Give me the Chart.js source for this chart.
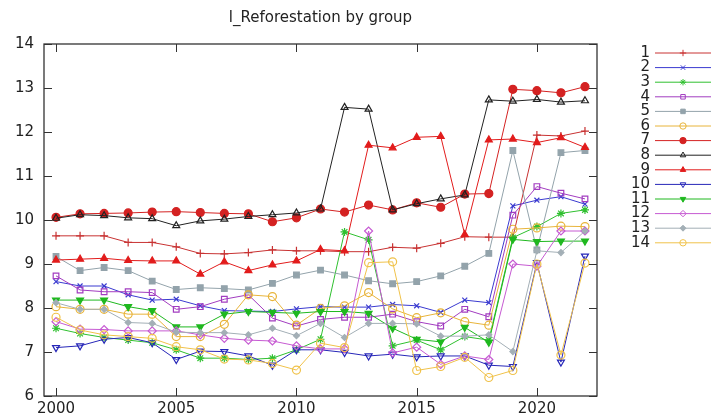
<!DOCTYPE html>
<html>
<head>
<meta charset="utf-8">
<script src="https://cdn.jsdelivr.net/npm/chart.js@4/dist/chart.umd.min.js"></script>
<style>
html,body{margin:0;padding:0;background:#fff;}
#c{display:block;}
</style>
</head>
<body>
<canvas id="c" width="711" height="418"></canvas>
<script>
const chartTitle = "l_Reforestation by group";
const years = [2000,2001,2002,2003,2004,2005,2006,2007,2008,2009,2010,2011,2012,2013,2014,2015,2016,2017,2018,2019,2020,2021,2022];
const xTickValues = [2000,2005,2010,2015,2020];
const yTickValues = [6,7,8,9,10,11,12,13,14];
const groupNames = ["1","2","3","4","5","6","7","8","9","10","11","12","13","14"];

const s1  = [9.64,9.64,9.64,9.49,9.49,9.39,9.24,9.23,9.26,9.32,9.30,9.30,9.28,9.28,9.38,9.36,9.47,9.62,9.61,9.61,11.93,11.91,12.02];
const s2  = [8.60,8.50,8.50,8.30,8.18,8.20,8.05,7.94,7.93,7.92,7.98,8.03,8.02,8.02,8.08,8.05,7.90,8.18,8.12,10.32,10.45,10.53,10.36];
const s3  = [7.54,7.42,7.33,7.27,7.21,7.05,6.86,6.86,6.83,6.86,7.05,7.29,9.73,9.55,7.14,7.27,7.05,7.35,7.27,9.60,9.85,10.15,10.23];
const s4  = [8.73,8.41,8.37,8.37,8.35,7.97,8.03,8.20,8.30,7.77,7.59,7.74,7.79,7.79,7.86,7.69,7.59,7.97,7.80,10.11,10.76,10.61,10.48];
const s5  = [9.17,8.85,8.92,8.85,8.61,8.42,8.46,8.44,8.41,8.56,8.75,8.86,8.75,8.62,8.55,8.60,8.73,8.95,9.24,11.58,9.32,11.53,11.58];
const s6  = [8.03,7.97,7.97,7.86,7.86,7.35,7.35,7.63,8.30,8.26,7.61,7.99,8.05,8.35,7.98,7.78,7.89,7.69,7.61,9.79,9.82,9.86,9.85];
const s7  = [10.06,10.14,10.15,10.16,10.18,10.19,10.17,10.15,10.14,9.96,10.05,10.25,10.18,10.34,10.23,10.39,10.29,10.59,10.60,12.97,12.94,12.89,13.03];
const s8  = [10.04,10.12,10.10,10.05,10.03,9.87,9.98,10.02,10.08,10.12,10.16,10.25,12.56,12.52,10.23,10.37,10.48,10.57,12.73,12.70,12.74,12.68,12.71];
const s9  = [9.09,9.11,9.13,9.08,9.07,9.07,8.77,9.05,8.85,8.98,9.07,9.33,9.30,11.70,11.64,11.88,11.90,9.67,11.82,11.84,11.76,11.87,11.65];
const s10 = [7.10,7.14,7.29,7.33,7.21,6.83,7.02,7.01,6.91,6.70,7.05,7.05,6.99,6.91,6.95,6.89,6.91,6.91,6.70,6.67,9.03,6.77,9.18];
const s11 = [8.18,8.18,8.18,8.03,7.94,7.57,7.57,7.86,7.92,7.90,7.88,7.92,7.92,7.88,7.54,7.29,7.23,7.56,7.22,9.56,9.51,9.52,9.52];
const s12 = [7.69,7.52,7.51,7.48,7.48,7.48,7.39,7.31,7.27,7.25,7.14,7.07,7.07,9.75,6.98,7.11,6.72,6.91,6.83,9.00,8.95,9.75,9.75];
const s13 = [8.12,7.97,7.97,7.67,7.65,7.45,7.44,7.44,7.39,7.54,7.37,7.65,7.33,7.65,7.65,7.64,7.36,7.36,7.39,7.01,9.30,9.26,9.75];
const s14 = [7.79,7.50,7.39,7.35,7.31,7.12,7.05,6.84,6.82,6.74,6.59,7.20,7.10,9.03,9.05,6.58,6.67,6.88,6.42,6.58,9.00,6.93,9.02];

const seriesValues = [s1,s2,s3,s4,s5,s6,s7,s8,s9,s10,s11,s12,s13,s14];
const seriesColors = ["#c83232","#3a3ad0","#2fc02f","#a23cc0","#93a3ab","#e8b43a","#d42222","#222222","#e21c1c","#2626b8","#1fb81f","#c65ad2","#a3afb6","#f0c24a"];
const seriesStyles = [
  {ps:"cross", r:4, fill:false, rot:0},
  {ps:"crossRot", r:3.5, fill:false, rot:0},
  {ps:"star", r:4, fill:false, rot:0},
  {ps:"rect", r:4, fill:false, rot:0},
  {ps:"rect", r:4, fill:true, rot:0},
  {ps:"circle", r:4, fill:false, rot:0},
  {ps:"circle", r:4, fill:true, rot:0},
  {ps:"triangle", r:4, fill:false, rot:0},
  {ps:"triangle", r:4, fill:true, rot:0},
  {ps:"triangle", r:4, fill:false, rot:180},
  {ps:"triangle", r:4, fill:true, rot:180},
  {ps:"rectRot", r:4, fill:false, rot:0},
  {ps:"rectRot", r:3, fill:true, rot:0},
  {ps:"circle", r:4, fill:false, rot:0}
];

const datasets = seriesValues.map((vals, i) => ({
  label: groupNames[i],
  data: years.map((y, j) => ({x: y, y: vals[j]})),
  borderColor: seriesColors[i],
  backgroundColor: seriesColors[i],
  borderWidth: 1,
  pointStyle: seriesStyles[i].ps,
  pointRadius: seriesStyles[i].r,
  pointRotation: seriesStyles[i].rot,
  pointBorderWidth: 1.2,
  pointBackgroundColor: seriesStyles[i].fill ? seriesColors[i] : "rgba(0,0,0,0)",
  pointBorderColor: seriesColors[i],
  tension: 0,
  fill: false,
  order: seriesValues.length - i
}));

const FONT = "'DejaVu Sans', Verdana, sans-serif";
const AREA = {left:44, right:597, top:44, bottom:396};

const framePlugin = {
  id: "frame",
  afterDraw(chart) {
    const ctx = chart.ctx;
    const a = chart.chartArea;
    const xs = chart.scales.x, ys = chart.scales.y;
    ctx.save();
    ctx.strokeStyle = "#333";
    ctx.lineWidth = 1.3;
    ctx.strokeRect(a.left, a.top, a.right - a.left, a.bottom - a.top);
    ctx.lineWidth = 1;
    ctx.beginPath();
    const tl = 8;
    yTickValues.forEach(v => {
      const p = Math.round(ys.getPixelForValue(v)) + 0.5;
      ctx.moveTo(a.left, p); ctx.lineTo(a.left + tl, p);
      ctx.moveTo(a.right, p); ctx.lineTo(a.right - tl, p);
    });
    xTickValues.forEach(v => {
      const p = Math.round(xs.getPixelForValue(v)) + 0.5;
      ctx.moveTo(p, a.bottom); ctx.lineTo(p, a.bottom - tl);
      ctx.moveTo(p, a.top); ctx.lineTo(p, a.top + tl);
    });
    ctx.stroke();

    // title
    ctx.fillStyle = "#222";
    ctx.font = "15px " + FONT;
    ctx.textAlign = "center";
    ctx.textBaseline = "middle";
    ctx.fillText(chartTitle, (a.left + a.right) / 2, 18);

    // legend
    const rowTop = 53, rowStep = 14.6;
    chart.data.datasets.forEach((ds, i) => {
      const y = rowTop + i * rowStep;
      ctx.fillStyle = "#222";
      ctx.textAlign = "right";
      ctx.fillText(ds.label, 650, y);
      ctx.strokeStyle = ds.borderColor;
      ctx.lineWidth = 1;
      ctx.beginPath();
      ctx.moveTo(655, y); ctx.lineTo(711, y);
      ctx.stroke();
      ctx.fillStyle = ds.pointBackgroundColor;
      ctx.strokeStyle = ds.pointBorderColor;
      Chart.helpers.drawPoint(ctx, {
        pointStyle: ds.pointStyle,
        radius: Math.min(ds.pointRadius, 3.2),
        rotation: ds.pointRotation,
        borderWidth: 1
      }, 683, y);
    });
    ctx.restore();
  }
};

new Chart(document.getElementById("c"), {
  type: "line",
  data: { datasets },
  options: {
    responsive: false,
    animation: false,
    layout: { padding: { left: 0, right: 711 - AREA.right, top: AREA.top, bottom: 0 } },
    plugins: { legend: { display: false }, title: { display: false }, tooltip: { enabled: false } },
    scales: {
      x: {
        type: "linear",
        min: 1999.5,
        max: 2022.5,
        afterFit(s) { s.height = 418 - AREA.bottom; },
        afterBuildTicks(s) { s.ticks = xTickValues.map(v => ({value: v})); },
        grid: { display: false, drawTicks: false },
        border: { display: false },
        ticks: { color: "#222", font: { family: FONT, size: 15 }, padding: 4, maxRotation: 0, autoSkip: false, callback: v => String(v) }
      },
      y: {
        type: "linear",
        min: 6,
        max: 14,
        afterFit(s) { s.width = AREA.left; },
        afterBuildTicks(s) { s.ticks = yTickValues.map(v => ({value: v})); },
        grid: { display: false, drawTicks: false },
        border: { display: false },
        ticks: { color: "#222", font: { family: FONT, size: 15 }, padding: 10, callback: v => String(v) }
      }
    }
  },
  plugins: [framePlugin]
});
</script>
</body>
</html>
